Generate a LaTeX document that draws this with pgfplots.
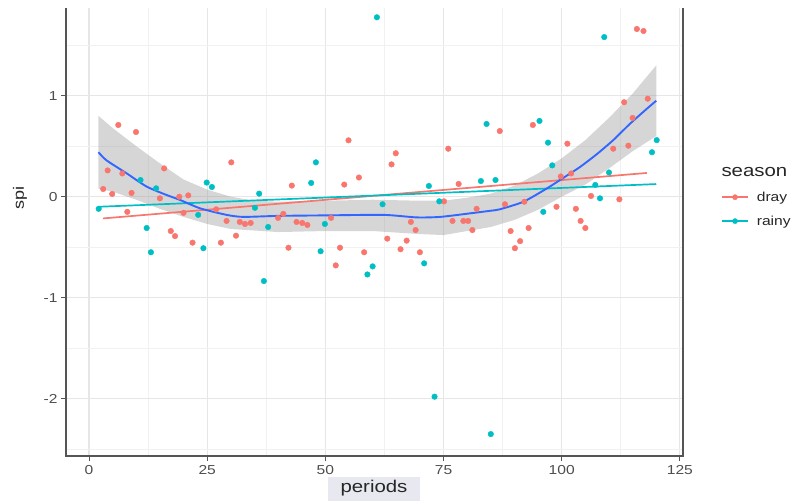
\documentclass[border=0pt]{standalone}
\usepackage{fontspec}
\setmainfont{Liberation Sans}[FakeStretch=1.2]
\usepackage{pgfplots}
\pgfplotsset{compat=1.18}
\definecolor{dray}{HTML}{F8766D}
\definecolor{rainy}{HTML}{00BFC4}
\definecolor{loess}{HTML}{3366FF}
\definecolor{band}{HTML}{999999}
\definecolor{axl}{HTML}{555555}
\definecolor{tcol}{HTML}{4D4D4D}
\begin{document}
\begin{tikzpicture}
\path[use as bounding box] (-66bp,-45bp) rectangle (731bp,456bp);
\fill[fill={rgb,255:red,232;green,232;blue,240}] (262bp,-21bp) rectangle (354bp,-45bp);
\begin{axis}[
  scale only axis, width=617bp, height=448bp,
  xmin=-4.866, xmax=125.66, ymin=-2.567, ymax=1.868,
  xtick={0,25,50,75,100,125}, ytick={-2,-1,0,1},
  minor xtick={12.5,37.5,62.5,87.5,112.5},
  minor ytick={-2.5,-1.5,-0.5,0.5,1.5},
  grid=both,
  major grid style={draw={rgb,255:red,230;green,230;blue,230}, line width=1.2bp},
  minor grid style={draw={rgb,255:red,241;green,241;blue,241}, line width=0.8bp},
  axis line style={draw=none},
  xtick pos=bottom, ytick pos=left, tick align=outside,
  major tick length=5bp, minor tick length=0pt,
  tick style={axl, line width=0.9bp},
  /pgf/number format/assume math mode=true,
  ticklabel style={font=\fontsize{13bp}{15bp}\selectfont, text=tcol},
  xticklabel style={yshift=-1bp},
  clip=false,
  legend cell align=left,
  legend style={at={(rel axis cs:1.0567,0.597)}, anchor=north west, draw=none, fill=none,
    font=\fontsize{13bp}{15bp}\selectfont, row sep=11bp,
    nodes={inner sep=1bp, text=black!85},
    /tikz/every odd column/.append style={column sep=7bp}},
  legend image code/.code={
    \draw[#1, line width=1.7bp] (0bp,0bp) -- (26bp,0bp);
    \fill[#1] (13bp,0bp) circle (2.6bp);
  },
]
% points
\addplot[only marks, mark=*, mark size=2.8bp, color=dray, mark options={draw=dray, fill=dray}, forget plot] coordinates {
(3.0,0.076)(3.95,0.26)(4.9,0.027)(6.2,0.71)(7.05,0.23)(8.1,-0.15)(9.0,0.037)(9.94,0.64)
(15.0,-0.016)(15.9,0.28)(17.3,-0.34)(18.2,-0.39)(19.1,0.0)(20.0,-0.16)(21.0,0.013)(21.9,-0.455)
(26.9,-0.125)(27.9,-0.455)(29.1,-0.24)(30.1,0.34)(31.1,-0.386)(31.9,-0.25)(33.0,-0.27)(34.2,-0.26)
(40.0,-0.21)(41.1,-0.17)(42.2,-0.505)(42.9,0.11)(43.9,-0.25)(45.1,-0.26)(46.2,-0.28)
(51.2,-0.21)(52.2,-0.68)(53.1,-0.505)(54.0,0.12)(54.9,0.558)(57.1,0.19)(58.2,-0.55)
(63.1,-0.415)(64.0,0.32)(64.9,0.43)(65.9,-0.52)(67.2,-0.435)(68.1,-0.25)(69.1,-0.33)(70.0,-0.55)
(75.1,-0.046)(76.0,0.475)(76.9,-0.24)(78.2,0.126)(79.2,-0.24)(80.2,-0.24)(81.1,-0.33)(82.0,-0.12)
(86.9,0.65)(88.0,-0.075)(89.2,-0.34)(90.1,-0.51)(91.2,-0.44)(92.1,-0.05)(93.0,-0.31)(93.9,0.71)
(98.9,-0.1)(99.8,0.2)(101.2,0.525)(102.0,0.23)(103.0,-0.12)(104.0,-0.24)(105.0,-0.31)(106.2,0.007)
(110.9,0.475)(112.2,-0.026)(113.2,0.935)(114.1,0.505)(115.0,0.78)(115.9,1.66)(117.3,1.64)(118.2,0.97)
};
\addplot[only marks, mark=*, mark size=2.8bp, color=rainy, mark options={draw=rainy, fill=rainy}, forget plot] coordinates {
(2.05,-0.12)(10.9,0.165)(12.2,-0.31)(13.1,-0.55)(14.2,0.083)(23.1,-0.18)(24.2,-0.51)(24.9,0.14)(26.0,0.096)
(35.1,-0.11)(36.0,0.03)(37.0,-0.835)(37.9,-0.30)(47.0,0.136)(48.0,0.34)(49.0,-0.54)(49.9,-0.27)
(58.9,-0.77)(60.0,-0.69)(60.9,1.776)(62.1,-0.075)(70.9,-0.66)(71.9,0.106)(73.1,-1.98)(74.1,-0.046)
(82.9,0.155)(84.1,0.72)(85.0,-2.35)(86.0,0.165)(95.3,0.75)(96.1,-0.15)(97.1,0.535)(98.0,0.31)
(107.1,0.116)(108.1,-0.016)(109.0,1.58)(110.0,0.24)(119.1,0.44)(120.1,0.56)
};
% confidence band
\addplot[draw=none, fill=band, fill opacity=0.4, forget plot] coordinates {
(2,0.80)(5,0.68)(10,0.50)(15,0.33)(20,0.17)(25,0.07)(30,0.0)(35,-0.04)(40,-0.05)(50,-0.04)(60,-0.03)
(70,-0.04)(75,-0.04)(80,-0.01)(85,0.03)(90,0.11)(95,0.23)(100,0.38)(105,0.56)(110,0.78)(115,1.02)(120,1.30)
(120,0.60)(115,0.45)(110,0.28)(105,0.12)(100,0.0)(95,-0.13)(90,-0.23)(85,-0.30)(80,-0.34)(75,-0.38)
(70,-0.37)(60,-0.34)(50,-0.34)(40,-0.35)(30,-0.32)(25,-0.27)(20,-0.2)(15,-0.12)(10,-0.03)(5,0.05)(2,0.08)
} -- cycle;
% linear trends
\addplot[dray, line width=1.7bp, forget plot] coordinates {(3,-0.215)(118,0.235)};
\addplot[rainy, line width=1.7bp, forget plot] coordinates {(2,-0.1)(120,0.125)};
% loess
\addplot[loess, line width=1.9bp, smooth, tension=0.4, forget plot] coordinates {
(2,0.44)(3.7,0.36)(8,0.23)(12.2,0.1)(16.4,0.017)(19.3,-0.033)(23.5,-0.115)(29.1,-0.18)(32.6,-0.2)
(40,-0.19)(50,-0.185)(62.3,-0.18)(69.3,-0.205)(74.3,-0.2)(80.6,-0.165)(84.8,-0.14)(86.9,-0.125)
(91.9,-0.05)(96.8,0.08)(100.3,0.185)(103.9,0.295)(107.4,0.42)(110.9,0.56)(114.4,0.72)(118,0.87)(120,0.95)
};
\addlegendimage{dray}
\addlegendentry{dray}
\addlegendimage{rainy}
\addlegendentry{rainy}
\draw[axl, line width=1.3bp] (rel axis cs:0,1) -- (rel axis cs:0,0) -- (rel axis cs:1,0) -- (rel axis cs:1,1);
\end{axis}
\node[rotate=90, font=\fontsize{15bp}{17bp}\selectfont, text=black!85] at (-46bp,258bp) {spi};
\node[font=\fontsize{17bp}{19bp}\selectfont, text=black!85] at (308bp,-32bp) {periods};
\node[anchor=west, font=\fontsize{17bp}{19bp}\selectfont, text=black!85] at (652bp,284bp) {season};
\end{tikzpicture}
\end{document}
